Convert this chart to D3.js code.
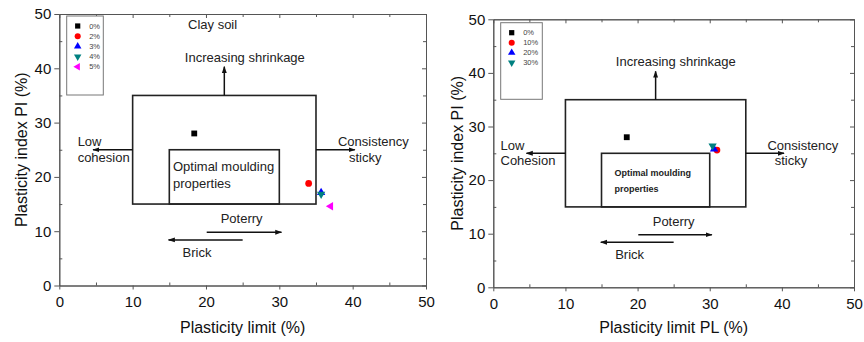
<!DOCTYPE html>
<html>
<head>
<meta charset="utf-8">
<script src="https://cdn.jsdelivr.net/npm/d3@7"></script>
<style>
  body { margin: 0; background: #fff; }
  text { font-family: "Liberation Sans", Arial, sans-serif; }
</style>
</head>
<body>
<div id="chart"></div>
<script>
// ---- data ----
var axisTicks = [0, 10, 20, 30, 40, 50];
var minorTicks = [5, 15, 25, 35, 45];

// left panel: clay soil
var leftSeries = ["0%", "2%", "3%", "4%", "5%"];
var leftPL = [18.4, 34.0, 35.7, 35.7, 37.0];
var leftPI = [28.0, 18.8, 17.1, 16.8, 14.6];

// right panel
var rightSeries = ["0%", "10%", "20%", "30%"];
var rightPL = [18.5, 31.0, 30.6, 30.4];
var rightPI = [28.0, 25.6, 25.8, 26.4];

// zones [x0, x1, y0, y1]
var outerZone = [10, 35, 15, 35];
var innerZone = [15, 30, 15, 25];

// arrows [x1, y1, x2, y2] (second point is the tip)
var arrows = [
  [22.5, 35, 22.5, 40.3],
  [10, 25, 4.6, 25],
  [35, 25, 40.3, 25],
  [20.1, 9.8, 30.3, 9.8],
  [25.0, 8.4, 14.9, 8.4]
];

var markers = [
  {shape: d3.symbolSquare, color: "#000000", rot: 0, size: 34},
  {shape: d3.symbolCircle, color: "#ff0000", rot: 0, size: 36},
  {shape: d3.symbolTriangle, color: "#0000ff", rot: 0, size: 30},
  {shape: d3.symbolTriangle, color: "#008080", rot: 180, size: 30},
  {shape: d3.symbolTriangle, color: "#ff00ff", rot: -90, size: 30}
];

var leftNotes = [
  {t: "Clay soil", x: 20.9, y: 47.3, anchor: "middle"},
  {t: "Increasing shrinkage", x: 25.3, y: 41.2, anchor: "middle"},
  {t: "Low", x: 2.5, y: 25.7},
  {t: "cohesion", x: 2.5, y: 22.7},
  {t: "Optimal moulding", x: 15.5, y: 21.0},
  {t: "properties", x: 15.5, y: 18.0},
  {t: "Consistency", x: 38.0, y: 25.7},
  {t: "sticky", x: 39.5, y: 22.7},
  {t: "Poterry", x: 22.0, y: 11.5},
  {t: "Brick", x: 16.8, y: 5.2}
];

var rightNotes = [
  {t: "Increasing shrinkage", x: 25.3, y: 41.2, anchor: "middle"},
  {t: "Low", x: 1.0, y: 25.7},
  {t: "Cohesion", x: 1.0, y: 22.8},
  {t: "Optimal moulding", x: 16.8, y: 20.8, bold: true},
  {t: "properties", x: 16.8, y: 17.8, bold: true},
  {t: "Consistency", x: 38.0, y: 25.7},
  {t: "sticky", x: 39.0, y: 22.8},
  {t: "Poterry", x: 22.1, y: 11.4},
  {t: "Brick", x: 16.9, y: 5.2}
];

var panels = [
  {xr: [59.3, 426], yr: [285.5, 14], series: leftSeries, pl: leftPL, pi: leftPI,
   notes: leftNotes, xTitle: "Plasticity limit (%)", legend: [66.7, 16, 36.6, 79],
   legendStep: 10.2, titleX: 21},
  {xr: [493.3, 854], yr: [287.3, 19.3], series: rightSeries, pl: rightPL, pi: rightPI,
   notes: rightNotes, xTitle: "Plasticity limit PL (%)", legend: [500.7, 22.7, 41.6, 76.6],
   legendStep: 10, titleX: 457}
];

var svg = d3.select("#chart").append("svg")
  .attr("width", 864)
  .attr("height", 342);

svg.append("defs").append("marker")
  .attr("id", "head")
  .attr("viewBox", "0 0 10 10")
  .attr("refX", 9).attr("refY", 5)
  .attr("markerWidth", 7).attr("markerHeight", 7)
  .attr("markerUnits", "userSpaceOnUse")
  .attr("orient", "auto")
  .append("path").attr("d", "M0,1.5L10,5L0,8.5Z").attr("fill", "#111");

panels.forEach(function(p, pi) {
  var x = d3.scaleLinear().domain([0, 50]).range(p.xr);
  var y = d3.scaleLinear().domain([0, 50]).range(p.yr);
  var g = svg.append("g");

  // frame with axes
  var axStyle = function(sel) {
    sel.select(".domain").attr("stroke", "#555");
    sel.selectAll(".tick line").attr("stroke", "#555");
    sel.selectAll("text").attr("fill", "#111").style("font-size", "15px")
      .style("font-family", "Liberation Sans, Arial, sans-serif");
  };
  g.append("g").attr("transform", "translate(0," + p.yr[0] + ")")
    .call(d3.axisBottom(x).tickValues(axisTicks).tickSize(4).tickPadding(7).tickSizeOuter(0))
    .call(axStyle);
  g.append("g").attr("transform", "translate(" + p.xr[0] + ",0)")
    .call(d3.axisLeft(y).tickValues(axisTicks).tickSize(5).tickPadding(3).tickSizeOuter(0))
    .call(axStyle);
  g.append("g").attr("transform", "translate(0," + p.yr[1] + ")")
    .call(d3.axisTop(x).tickValues(axisTicks).tickSize(-4).tickFormat("").tickSizeOuter(0))
    .call(axStyle);
  g.append("g").attr("transform", "translate(" + p.xr[1] + ",0)")
    .call(d3.axisRight(y).tickValues(axisTicks).tickSize(-4).tickFormat("").tickSizeOuter(0))
    .call(axStyle);
  // minor ticks inward
  g.append("g").attr("transform", "translate(0," + p.yr[0] + ")")
    .call(d3.axisBottom(x).tickValues(minorTicks).tickSize(-3).tickFormat("").tickSizeOuter(0))
    .call(axStyle);
  g.append("g").attr("transform", "translate(" + p.xr[0] + ",0)")
    .call(d3.axisLeft(y).tickValues(minorTicks).tickSize(-3).tickFormat("").tickSizeOuter(0))
    .call(axStyle);
  g.append("g").attr("transform", "translate(0," + p.yr[1] + ")")
    .call(d3.axisTop(x).tickValues(minorTicks).tickSize(-3).tickFormat("").tickSizeOuter(0))
    .call(axStyle);
  g.append("g").attr("transform", "translate(" + p.xr[1] + ",0)")
    .call(d3.axisRight(y).tickValues(minorTicks).tickSize(-3).tickFormat("").tickSizeOuter(0))
    .call(axStyle);

  // axis titles
  g.append("text")
    .attr("x", (p.xr[0] + p.xr[1]) / 2)
    .attr("y", 333)
    .attr("text-anchor", "middle")
    .style("font-size", "16px").attr("fill", "#111")
    .text(p.xTitle);
  g.append("text")
    .attr("transform", "translate(" + (p.titleX + 6) + "," + ((p.yr[0] + p.yr[1]) / 2) + ") rotate(-90)")
    .attr("text-anchor", "middle")
    .style("font-size", "16px").attr("fill", "#111")
    .text("Plasticity index PI (%)");

  // zone boxes
  [outerZone, innerZone].forEach(function(z) {
    g.append("rect")
      .attr("x", x(z[0])).attr("y", y(z[3]))
      .attr("width", x(z[1]) - x(z[0]))
      .attr("height", y(z[2]) - y(z[3]))
      .attr("fill", "none").attr("stroke", "#222").attr("stroke-width", 1.6);
  });

  // arrows
  g.selectAll(".arrow").data(arrows).enter().append("line")
    .attr("x1", function(d) { return x(d[0]); })
    .attr("y1", function(d) { return y(d[1]); })
    .attr("x2", function(d) { return x(d[2]); })
    .attr("y2", function(d) { return y(d[3]); })
    .attr("stroke", "#111").attr("stroke-width", 1.5)
    .attr("marker-end", "url(#head)");

  // notes
  g.selectAll(".note").data(p.notes).enter().append("text")
    .attr("x", function(d) { return x(d.x); })
    .attr("y", function(d) { return y(d.y); })
    .attr("text-anchor", function(d) { return d.anchor || "start"; })
    .style("font-size", function(d) { return d.bold ? "9px" : "13px"; })
    .style("font-weight", function(d) { return d.bold ? "bold" : "normal"; })
    .attr("fill", "#222")
    .text(function(d) { return d.t; });

  // points
  p.series.forEach(function(s, i) {
    var m = markers[i];
    g.append("path")
      .attr("d", d3.symbol().type(m.shape).size(m.size))
      .attr("transform", "translate(" + x(p.pl[i]) + "," + y(p.pi[i]) + ") rotate(" + m.rot + ")")
      .attr("fill", m.color);
  });

  // legend
  var L = p.legend;
  g.append("rect")
    .attr("x", L[0]).attr("y", L[1]).attr("width", L[2]).attr("height", L[3])
    .attr("fill", "#fff").attr("stroke", "#777").attr("stroke-width", 1);
  p.series.forEach(function(s, i) {
    var m = markers[i];
    var cy = L[1] + 10 + i * p.legendStep;
    g.append("path")
      .attr("d", d3.symbol().type(m.shape).size(m.size * 0.8))
      .attr("transform", "translate(" + (L[0] + 11) + "," + cy + ") rotate(" + m.rot + ")")
      .attr("fill", m.color);
    g.append("text")
      .attr("x", L[0] + 22.5).attr("y", cy + 2.6)
      .style("font-size", "7.5px").attr("fill", "#444")
      .text(s);
  });
});
</script>
</body>
</html>
